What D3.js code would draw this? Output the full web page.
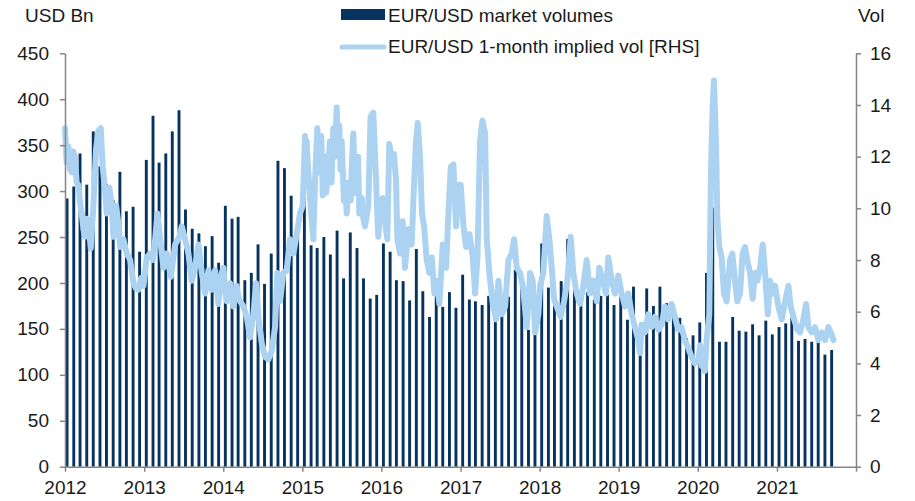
<!DOCTYPE html>
<html><head><meta charset="utf-8">
<script src="https://cdn.jsdelivr.net/npm/d3@7"></script>
<style>
body{margin:0;background:#fff;}
text{font-family:"Liberation Sans",Arial,sans-serif;fill:#1a1a1a;}
</style></head>
<body><svg id="c" width="915" height="501"></svg>
<script>
// Monthly EUR/USD market volumes (USD Bn), Jan 2012 .. Sep 2021
const volumeStart = "2012-01";
const volumes = [
 292,305,341,307,365,327,308,290,321,278,283,234,
 334,382,331,341,365,388,280,259,254,240,251,222,
 284,270,272,203,211,242,199,232,333,325,295,260,
 305,241,238,250,231,257,205,255,238,205,183,187,
 243,234,203,202,181,237,191,163,194,174,190,173,
 209,182,180,176,186,168,171,185,214,194,149,157,
 243,195,178,202,248,198,178,190,182,186,187,176,
 185,160,196,150,194,175,196,178,166,162,140,143,
 157,211,282,136,136,163,148,147,155,143,159,144,
 152,156,162,137,139,136,138,122,127
];
// 1-month implied vol: [fraction of year, vol] per year
const vol2012 = [[0,13.1],[.020,11.8],[.042,12.4],[.063,11.5],[.084,11.4],[.105,12.2],[.126,12.0],[.147,11.0],[.169,10.9],[.190,10.2],[.211,9.8],[.232,9.2],[.253,8.9],[.275,9.6],[.295,9.5],[.325,8.45],[.358,10.1],[.392,12.3],[.421,13.0],[.451,13.1],[.476,11.6],[.506,10.7],[.527,9.8],[.560,10.8],[.590,10.1],[.611,8.9],[.645,10.1],[.674,9.4],[.695,8.5],[.737,8.8],[.780,8.25],[.822,8.0],[.864,7.1],[.895,6.9],[.927,6.85],[.960,7.3],[.990,7.0]];
const vol2013 = [[.032,8.1],[.075,8.25],[.110,8.0],[.138,8.8],[.167,9.8],[.201,8.8],[.243,7.7],[.285,8.25],[.336,7.35],[.391,8.6],[.445,8.9],[.475,9.3],[.517,8.8],[.559,8.25],[.601,7.2],[.643,7.7],[.686,8.6],[.728,7.5],[.770,6.7],[.812,7.6],[.854,6.85],[.896,7.6],[.938,6.3],[.981,7.5]];
const vol2014 = [[.002,7.7],[.023,6.9],[.044,6.4],[.065,7.0],[.086,7.1],[.107,6.5],[.128,6.2],[.150,6.8],[.170,7.0],[.190,6.6],[.212,6.4],[.255,6.2],[.297,5.8],[.339,5.0],[.381,5.9],[.415,7.1],[.444,5.8],[.486,4.8],[.528,4.25],[.571,4.15],[.613,4.5],[.655,5.4],[.684,7.5],[.718,6.4],[.760,7.5],[.802,7.6],[.845,8.8],[.887,8.25],[.929,9.0],[.971,9.8]];
const vol2015 = [[.005,10.1],[.034,12.8],[.045,11.2],[.055,12.6],[.064,12.0],[.097,10.4],[.139,8.8],[.161,11.1],[.190,13.1],[.205,11.4],[.224,12.6],[.240,12.8],[.258,10.5],[.287,12.0],[.300,10.6],[.316,11.1],[.350,12.6],[.370,11.0],[.392,13.1],[.410,12.0],[.435,13.9],[.450,12.3],[.468,13.2],[.483,11.5],[.498,12.6],[.527,10.3],[.545,11.0],[.561,9.8],[.585,11.0],[.611,10.3],[.628,11.8],[.645,12.9],[.665,10.6],[.687,11.1],[.705,12.0],[.721,9.8],[.751,10.4],[.772,9.6],[.793,9.3],[.835,10.1],[.864,13.55],[.898,13.7],[.932,11.1],[.961,8.9],[.982,9.8]];
const vol2016 = [[.016,10.4],[.046,9.5],[.075,8.8],[.100,12.5],[.130,11.9],[.159,12.1],[.185,11.1],[.202,8.8],[.235,8.25],[.269,9.5],[.298,7.7],[.341,9.2],[.383,8.6],[.404,10.3],[.437,12.6],[.459,13.3],[.488,12.0],[.513,9.8],[.539,9.3],[.572,8.0],[.606,7.5],[.636,8.1],[.669,6.7],[.699,7.2],[.732,6.3],[.775,8.6],[.817,7.7],[.846,9.8],[.876,11.6],[.909,11.7],[.943,9.3],[.973,10.9]];
const vol2017 = [[.002,10.9],[.036,9.3],[.070,8.5],[.112,9.0],[.154,8.1],[.183,6.7],[.213,8.1],[.246,12.6],[.276,13.4],[.310,12.9],[.331,8.8],[.364,7.5],[.407,6.3],[.449,5.7],[.478,7.2],[.521,5.9],[.563,6.2],[.605,8.0],[.647,8.25],[.676,8.8],[.710,7.7],[.752,7.5],[.794,6.85],[.837,5.4],[.879,7.5],[.912,7.2],[.942,5.2],[.984,5.9]];
const vol2018 = [[.005,7.0],[.047,7.5],[.089,9.7],[.123,8.8],[.153,7.7],[.182,6.5],[.216,6.2],[.266,5.8],[.309,6.4],[.351,7.2],[.393,8.9],[.426,7.5],[.469,6.7],[.511,6.3],[.553,7.0],[.595,8.0],[.637,6.7],[.679,7.2],[.722,6.4],[.755,7.7],[.797,7.2],[.839,6.7],[.869,8.1],[.911,7.2],[.953,6.7],[.995,7.4]];
const vol2019 = [[.038,6.7],[.080,6.2],[.122,6.7],[.164,5.9],[.206,5.4],[.248,4.9],[.270,4.4],[.290,5.5],[.332,5.2],[.375,5.9],[.417,5.4],[.459,5.8],[.501,5.3],[.543,5.5],[.585,6.2],[.627,5.7],[.669,6.3],[.712,5.8],[.754,5.3],[.796,5.4],[.838,4.9],[.880,4.6],[.922,4.25],[.965,4.0]];
const vol2020 = [[.007,4.1],[.030,4.7],[.050,3.9],[.070,4.3],[.090,3.7],[.112,4.9],[.146,5.9],[.167,11.35],[.188,13.9],[.205,14.95],[.230,12.6],[.247,9.7],[.273,8.5],[.302,8.1],[.331,6.7],[.365,6.4],[.407,8.0],[.437,8.25],[.470,7.2],[.500,6.4],[.534,6.7],[.567,8.25],[.597,8.5],[.626,8.0],[.660,7.5],[.694,6.5],[.723,7.5],[.753,7.2],[.786,7.7],[.820,8.6],[.850,7.5],[.884,5.9],[.913,7.2],[.947,6.7],[.976,7.0]];
const vol2021 = [[.018,6.2],[.061,5.7],[.103,6.4],[.145,7.0],[.174,6.2],[.217,5.7],[.259,5.3],[.292,5.2],[.334,5.7],[.368,6.3],[.398,5.4],[.440,5.2],[.482,5.4],[.524,4.9],[.567,5.2],[.609,4.9],[.651,5.4],[.680,5.2],[.714,4.9]];
const volYears = [2012,2013,2014,2015,2016,2017,2018,2019,2020,2021];
const volSeries = [vol2012,vol2013,vol2014,vol2015,vol2016,vol2017,vol2018,vol2019,vol2020,vol2021];

const leftTicks = [0,50,100,150,200,250,300,350,400,450];
const rightTicks = [0,2,4,6,8,10,12,14,16];
const yearTicks = [2012,2013,2014,2015,2016,2017,2018,2019,2020,2021,2022];
const legendLabels = ["EUR/USD market volumes","EUR/USD 1-month implied vol [RHS]"];
const leftTitle = "USD Bn", rightTitle = "Vol";

const barColor = "#06335f", lineColor = "#abd3f1", axisColor = "#858585";
const FS = "19px";
const svg = d3.select("#c");
const L = 65, R = 856, B = 466.7, T = 53.3;

const x = d3.scaleTime().domain([new Date(2012,0,1), new Date(2022,0,1)]).range([L,R]);
const yL = d3.scaleLinear().domain([0,450]).range([B,T]);
const yR = d3.scaleLinear().domain([0,16]).range([B,T]);

function fracToDate(y, f){
  const a = new Date(y,0,1), b = new Date(y+1,0,1);
  return new Date(a.getTime() + f*(b-a));
}
const [sy, sm] = volumeStart.split("-").map(Number);
const barData = volumes.map((v,i)=>({date:new Date(sy, sm-1+i, 1), v}));

// bars
svg.append("g").selectAll("rect").data(barData).enter().append("rect")
  .attr("x", d=>x(d.date)+0.6).attr("width",2.9)
  .attr("y", d=>yL(d.v)).attr("height", d=>B-yL(d.v))
  .attr("fill", barColor);

// vol line
const lineData = [];
volSeries.forEach((arr,k)=>arr.forEach(([f,v])=>lineData.push({date:fracToDate(volYears[k],f), v})));
svg.append("path").datum(lineData)
  .attr("d", d3.line().x(d=>x(d.date)).y(d=>yR(d.v)))
  .attr("fill","none").attr("stroke",lineColor).attr("stroke-width",6)
  .attr("stroke-linejoin","round").attr("stroke-linecap","round");

// axes
function styleAxis(g){
  g.selectAll("path,line").attr("stroke",axisColor).attr("stroke-width",1.5);
  g.selectAll("text").style("font-size",FS).attr("fill","#1a1a1a")
   .style("font-family","'Liberation Sans',Arial,sans-serif");
}
svg.append("g").attr("transform",`translate(${L},0)`)
  .call(d3.axisLeft(yL).tickValues(leftTicks).tickSize(5).tickPadding(11).tickSizeOuter(0))
  .call(styleAxis);
svg.append("g").attr("transform",`translate(${R},0)`)
  .call(d3.axisRight(yR).tickValues(rightTicks).tickSize(5).tickPadding(9).tickSizeOuter(0))
  .call(styleAxis);
svg.append("g").attr("transform",`translate(0,${B})`)
  .call(d3.axisBottom(x).tickValues(yearTicks.map(y=>new Date(y,0,1)))
     .tickFormat(d=>d.getFullYear()===2022?"":d3.timeFormat("%Y")(d))
     .tickSize(5).tickPadding(9).tickSizeOuter(0))
  .call(styleAxis);

// titles
svg.append("text").attr("x",25).attr("y",22).style("font-size",FS).text(leftTitle);
svg.append("text").attr("x",858).attr("y",22).style("font-size",FS).text(rightTitle);

// legend
const lg = svg.append("g");
lg.append("rect").attr("x",341).attr("y",9).attr("width",44).attr("height",11).attr("fill",barColor);
lg.append("line").attr("x1",342).attr("x2",384).attr("y1",47).attr("y2",47)
  .attr("stroke",lineColor).attr("stroke-width",5).attr("stroke-linecap","round");
lg.append("text").attr("x",388).attr("y",22).style("font-size",FS).text(legendLabels[0]);
lg.append("text").attr("x",388).attr("y",53).style("font-size",FS).text(legendLabels[1]);
</script></body></html>
